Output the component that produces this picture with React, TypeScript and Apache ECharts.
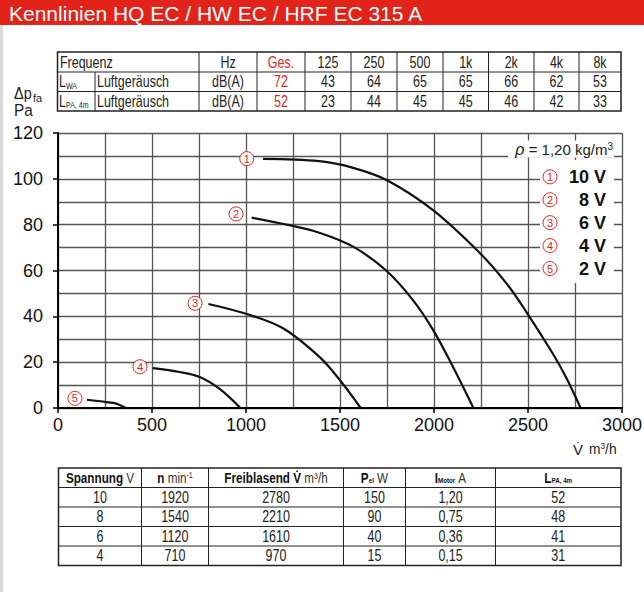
import React, { useEffect, useRef } from 'react';
import * as echarts from 'echarts';

// ---------- data ----------
const titleText = 'Kennlinien HQ EC / HW EC / HRF EC 315 A';

const freqHeaders = ['125', '250', '500', '1k', '2k', '4k', '8k'];
const lwaValues = ['43', '64', '65', '65', '66', '62', '53'];
const lpaValues = ['23', '44', '45', '45', '46', '42', '33'];
const lwaTotal = '72';
const lpaTotal = '52';

const curve10V = [[1090, 108.7], [1390, 107.7], [1570, 104.8], [1750, 99.4], [1995, 86.3], [2245, 67.5], [2385, 54.4], [2490, 42.1], [2630, 24], [2705, 13], [2780, 0]];
const curve8V = [[1030, 83.1], [1230, 79.8], [1390, 76.5], [1570, 70.4], [1747, 59.9], [1888, 47.1], [1995, 34.1], [2100, 18.1], [2210, 0]];
const curve6V = [[800, 45.4], [1000, 41.1], [1197, 34.8], [1392, 22.2], [1498, 12.3], [1610, 0]];
const curve4V = [[505, 17.4], [647, 15.7], [754, 13.5], [860, 8.3], [970, 0]];
const curve2V = [[154, 3.6], [257, 2.6], [310, 1.9], [360, 0]];
const curves = [curve10V, curve8V, curve6V, curve4V, curve2V];

const curveTags = ['1', '2', '3', '4', '5'];
const curveTagPoints = [[1004, 108.8], [947, 84.7], [729, 45.7], [436, 18.0], [90, 4.2]];

const legendLabels = ['10 V', '8 V', '6 V', '4 V', '2 V'];
const legendLevels = [100, 90, 80, 70, 60];

const spannung = ['10', '8', '6', '4'];
const drehzahl = ['1920', '1540', '1120', '710'];
const freiblasend = ['2780', '2210', '1610', '970'];
const pel = ['150', '90', '40', '15'];
const iMotor = ['1,20', '0,75', '0,36', '0,15'];
const lpa4m = ['52', '48', '41', '31'];

// ---------- layout ----------
const FONT = '"Liberation Sans", Arial, Helvetica, sans-serif';
const RED = '#e2231a';
const GRID = { left: 58, top: 133, width: 564, height: 275 };
const Y_MAX = 120;
const NARROW = 0.78;

function yPix(v: number) {
  return GRID.top + ((Y_MAX - v) / Y_MAX) * GRID.height;
}

function buildGraphic() {
  const els: any[] = [];
  const line = (x1: number, y1: number, x2: number, y2: number, w = 1, c = '#222') =>
    els.push({ type: 'line', shape: { x1, y1, x2, y2 }, style: { stroke: c, lineWidth: w }, z: 10, silent: true });
  const text = (x: number, y: number, t: string, opts: any = {}, sx = 1) =>
    els.push({
      type: 'text', x, y, scaleX: sx, z: 11, silent: true,
      style: { text: t, fontFamily: FONT, fontSize: 16, fill: '#222', align: 'center', verticalAlign: 'middle', ...opts },
    });

  // title bar & page frame
  els.push({ type: 'rect', shape: { x: 0, y: 0, width: 644, height: 25 }, style: { fill: RED }, z: 10 });
  text(9, 13, titleText, { fontSize: 21, fill: '#fff', align: 'left' });
  els.push({ type: 'rect', shape: { x: 0, y: 25, width: 3, height: 567 }, style: { fill: '#d9d9d9' }, z: 10 });

  // ---- top table ----
  const tc = [57.5, 199, 257, 305, 351, 397, 443, 488.5, 534, 579, 621];
  const tr = [52, 72, 91.5, 111];
  for (let i = 1; i < tr.length - 1; i++) line(tc[0], tr[i], tc[tc.length - 1], tr[i]);
  for (let i = 1; i < tc.length - 1; i++) line(tc[i], tr[0], tc[i], tr[3]);
  line(95, tr[1], 95, tr[3]);
  els.push({ type: 'rect', shape: { x: tc[0], y: tr[0], width: tc[tc.length - 1] - tc[0], height: tr[3] - tr[0] }, style: { fill: 'none', stroke: '#222', lineWidth: 1.5 }, z: 10 });
  const rc = [(tr[0] + tr[1]) / 2, (tr[1] + tr[2]) / 2, (tr[2] + tr[3]) / 2];
  const mid = (i: number) => (tc[i] + tc[i + 1]) / 2;
  text(60, rc[0], 'Frequenz', { align: 'left' }, NARROW);
  text(mid(1), rc[0], 'Hz', {}, NARROW);
  text(mid(2), rc[0], 'Ges.', { fill: RED }, NARROW);
  freqHeaders.forEach((f, i) => text(mid(3 + i), rc[0], f, {}, NARROW));
  const rowsTop = [
    { sub: 'WA', vals: lwaValues, total: lwaTotal },
    { sub: 'PA, 4m', vals: lpaValues, total: lpaTotal },
  ];
  rowsTop.forEach((r, k) => {
    const y = rc[k + 1];
    text(59, y, 'L', { align: 'left' }, NARROW);
    text(66, y + 4, r.sub, { align: 'left', fontSize: 9 }, NARROW);
    text(97, y, 'Luftgeräusch', { align: 'left' }, NARROW);
    text(mid(1), y, 'dB(A)', {}, NARROW);
    text(mid(2), y, r.total, { fill: RED }, NARROW);
    r.vals.forEach((v, i) => text(mid(3 + i), y, v, {}, NARROW));
  });

  // axis names
  text(14, 93, 'Δp', { align: 'left', fontSize: 17 }, 0.85);
  text(33, 98, 'fa', { align: 'left', fontSize: 11 });
  text(14, 110, 'Pa', { align: 'left', fontSize: 17 }, 0.9);
  text(573, 449, 'V̇', { align: 'left', fontSize: 15 });
  text(589, 449, 'm{s|3}/h', { align: 'left', fontSize: 15, rich: { s: { fontSize: 9, verticalAlign: 'top', fontFamily: FONT, fill: '#222' } } }, 0.92);

  // density + legend boxes
  els.push({ type: 'rect', shape: { x: 508, y: 140.5, width: 106, height: 17 }, style: { fill: '#fff' }, z: 5 });
  els.push({ type: 'rect', shape: { x: 540, y: 160, width: 74, height: 123 }, style: { fill: '#fff' }, z: 5 });
  text(613, 149, '{i|ρ} = 1,20 kg/m{s|3}', {
    align: 'right', fontSize: 15,
    rich: {
      i: { fontStyle: 'italic', fontSize: 16, fontFamily: FONT, fill: '#222' },
      s: { fontSize: 10, verticalAlign: 'top', fontFamily: FONT, fill: '#222' },
    },
  });
  legendLabels.forEach((lab, i) => {
    const y = yPix(legendLevels[i]) - 2;
    els.push({ type: 'circle', shape: { cx: 550, cy: y, r: 7 }, style: { fill: '#fff', stroke: RED, lineWidth: 1 }, z: 11 });
    text(550, y + 0.5, curveTags[i], { fill: RED, fontSize: 11 });
    text(606, y, lab, { align: 'right', fontSize: 18, fontWeight: 'bold', fill: '#111' });
  });

  // ---- bottom table ----
  const bc = [58.5, 141.5, 208.5, 343.5, 405.5, 495.5, 621];
  const br = [468, 487.5, 507, 526.5, 546, 565.5];
  for (let i = 1; i < br.length - 1; i++) line(bc[0], br[i], bc[bc.length - 1], br[i]);
  for (let i = 1; i < bc.length - 1; i++) line(bc[i], br[0], bc[i], br[br.length - 1]);
  els.push({ type: 'rect', shape: { x: bc[0], y: br[0], width: bc[bc.length - 1] - bc[0], height: br[br.length - 1] - br[0] }, style: { fill: 'none', stroke: '#222', lineWidth: 1.5 }, z: 10 });
  const rich = {
    b: { fontWeight: 'bold', fontSize: 15, fontFamily: FONT, fill: '#111' },
    r: { fontSize: 15, fontFamily: FONT, fill: '#333' },
    sup: { fontSize: 9, fontFamily: FONT, fill: '#333', verticalAlign: 'top' },
    bs: { fontWeight: 'bold', fontSize: 8, fontFamily: FONT, fill: '#111', verticalAlign: 'bottom' },
  };
  const heads = [
    '{b|Spannung}{r| V}',
    '{b|n}{r| min}{sup|-1}',
    '{b|Freiblasend V̇}{r| m³/h}',
    '{b|P}{bs|el}{r| W}',
    '{b|I}{bs|Motor}{r| A}',
    '{b|L}{bs|PA, 4m}',
  ];
  const bmid = (i: number) => (bc[i] + bc[i + 1]) / 2;
  heads.forEach((h, i) => text(bmid(i), (br[0] + br[1]) / 2, h, { rich }, NARROW));
  const cols = [spannung, drehzahl, freiblasend, pel, iMotor, lpa4m];
  cols.forEach((col, ci) =>
    col.forEach((v, ri) => text(bmid(ci), (br[ri + 1] + br[ri + 2]) / 2, v, { fill: '#222' }, NARROW))
  );
  return els;
}

export default function App() {
  const ref = useRef<HTMLDivElement>(null);
  useEffect(() => {
    if (!ref.current) return;
    const chart = echarts.init(ref.current, null, { renderer: 'svg' });
    const gridLine = { color: '#555', width: 1.3 };
    const axisCommon = {
      type: 'value' as const,
      axisLine: { show: true, onZero: false, lineStyle: { color: '#000', width: 2 } },
      axisTick: { show: true, inside: false, length: 5, lineStyle: { color: '#000', width: 1.5 } },
      splitLine: { show: true, lineStyle: gridLine },
      minorTick: { show: false, splitNumber: 2 },
      minorSplitLine: { show: true, lineStyle: gridLine },
    };
    chart.setOption({
      animation: false,
      backgroundColor: '#fff',
      grid: { ...GRID, containLabel: false, outerBoundsMode: 'none' },
      xAxis: {
        ...axisCommon, min: 0, max: 3000, interval: 500,
        axisLabel: { fontSize: 18, color: '#111', fontFamily: FONT, margin: 8, showMinLabel: true, showMaxLabel: true, hideOverlap: false, formatter: (v: number) => String(v) },
      },
      yAxis: {
        ...axisCommon, min: 0, max: 120, interval: 20,
        axisLabel: { fontSize: 18, color: '#111', fontFamily: FONT, margin: 15, showMinLabel: true, showMaxLabel: true, formatter: (v: number) => String(v) },
      },
      series: [
        ...curves.map((c, i) => ({
          type: 'line', name: legendLabels[i], data: c, smooth: 0.35, symbol: 'none', z: 3,
          lineStyle: { color: '#111', width: 2.2 },
        })),
        {
          type: 'scatter', z: 4, symbol: 'circle', symbolSize: 14,
          data: curveTagPoints.map((p, i) => [p[0], p[1], curveTags[i]]),
          itemStyle: { color: '#fff', borderColor: RED, borderWidth: 1, opacity: 1 },
          label: { show: true, position: 'inside', formatter: (p: any) => p.value[2], color: RED, fontSize: 11, fontFamily: FONT },
          emphasis: { disabled: true },
        },
      ],
      graphic: { elements: buildGraphic() },
    });
    return () => chart.dispose();
  }, []);
  return <div ref={ref} style={{ position: 'fixed', left: 0, top: 0, width: 644, height: 592 }} />;
}
